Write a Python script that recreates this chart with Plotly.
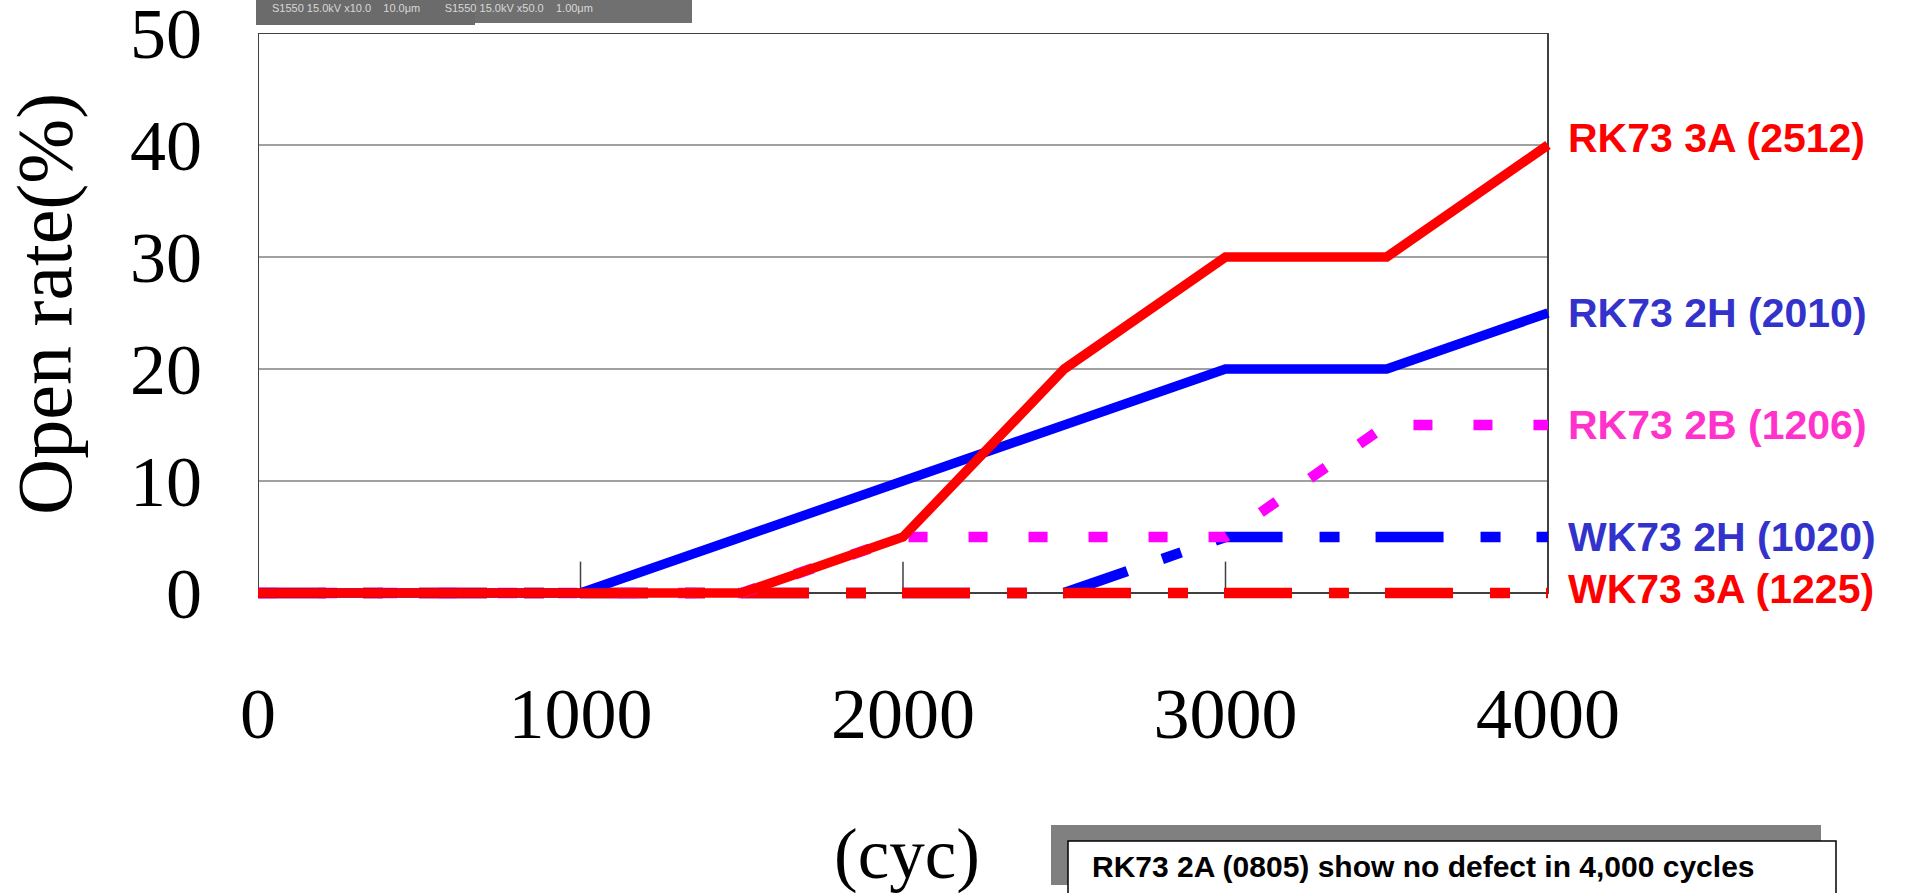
import plotly.graph_objects as go

# ---------------- data ----------------
cycles = [0, 500, 1000, 1500, 2000, 2500, 3000, 3500, 4000]
rk73_3a = [0, 0, 0, 0, 5, 20, 30, 30, 40]
rk73_2h = [0, 0, 0, 5, 10, 15, 20, 20, 25]
rk73_2b = [0, 0, 0, 0, 5, 5, 5, 15, 15]
wk73_2h = [0, 0, 0, 0, 0, 0, 5, 5, 5]
wk73_3a = [0, 0, 0, 0, 0, 0, 0, 0, 0]

series_names = ["WK73 2H (1020)", "WK73 3A (1225)", "RK73 2B (1206)",
                "RK73 2H (2010)", "RK73 3A (2512)"]
series_values = [wk73_2h, wk73_3a, rk73_2b, rk73_2h, rk73_3a]

x_ticks = [0, 1000, 2000, 3000, 4000]
y_ticks = [0, 10, 20, 30, 40, 50]
x_title = "(cyc)"
y_title = "Open rate(%)"
note_text = "RK73 2A (0805) show no defect in 4,000 cycles"
strip_text = "S1550 15.0kV x10.0    10.0μm        S1550 15.0kV x50.0    1.00μm"

# ---------------- styles ----------------
DASHDOT = "68px,37px,20px,36px"
styles = {
    "WK73 2H (1020)": dict(color="#0000FF", width=10.5, dash=DASHDOT, label="#3333CC", yshift=0),
    "WK73 3A (1225)": dict(color="#FF0000", width=10.5, dash=DASHDOT, label="#FF0000", yshift=4),
    "RK73 2B (1206)": dict(color="#FF00FF", width=10.5, dash="19px,41px", label="#FF33CC", yshift=0),
    "RK73 2H (2010)": dict(color="#0000FF", width=9.5, dash="solid", label="#3333CC", yshift=0),
    "RK73 3A (2512)": dict(color="#FF0000", width=9.5, dash="solid", label="#FF0000", yshift=7),
}

SERIF = "Liberation Serif, Times New Roman, serif"
SANS = "Liberation Sans, Arial, sans-serif"

W, H = 1908, 893
ML, MR, MT, MB = 258, 350, 33, 290
plot_w = W - ML - MR          # 1300 px; 4000 cycles -> 1290 px
plot_h = H - MT - MB          # 570 px; 50 % -> 560 px
x_max = 4000 * plot_w / 1290
y_min = -(plot_h - 560) / 11.2

fig = go.Figure()

for name, vals in zip(series_names, series_values):
    st = styles[name]
    fig.add_trace(go.Scatter(
        x=cycles, y=vals, mode="lines", name=name,
        line=dict(color=st["color"], width=st["width"], dash=st["dash"]),
        showlegend=False, hoverinfo="skip",
    ))


def px_x(p):
    return (p - ML) / plot_w


def px_y(p):
    return 1 - (p - MT) / plot_h


shapes = []
# horizontal gridlines, only inside the frame
for t in y_ticks[1:-1]:
    shapes.append(dict(type="line", xref="x", yref="y", x0=x_ticks[0], x1=x_ticks[-1], y0=t, y1=t,
                       line=dict(color="#808080", width=1.5), layer="below"))
# plot frame (drawn below the data lines)
shapes.append(dict(type="rect", xref="x", yref="y", x0=x_ticks[0], x1=x_ticks[-1],
                   y0=y_ticks[0], y1=y_ticks[-1],
                   line=dict(color="#404040", width=2), layer="below"))
# inner tick marks on the x axis
for t in x_ticks[1:-1]:
    shapes.append(dict(type="line", xref="x", yref="y", x0=t, x1=t, y0=0, y1=2.8,
                       line=dict(color="#404040", width=1.5), layer="below"))
# grey SEM-image strip at the very top
shapes.append(dict(type="rect", xref="paper", yref="paper",
                   x0=px_x(256), x1=px_x(475), y0=px_y(25), y1=px_y(0),
                   line=dict(width=0), fillcolor="#6b6b6b", layer="above"))
shapes.append(dict(type="rect", xref="paper", yref="paper",
                   x0=px_x(475), x1=px_x(692), y0=px_y(23), y1=px_y(0),
                   line=dict(width=0), fillcolor="#707070", layer="above"))
# note box with shadow
shapes.append(dict(type="rect", xref="paper", yref="paper",
                   x0=px_x(1051), x1=px_x(1821), y0=px_y(885), y1=px_y(825),
                   line=dict(width=0), fillcolor="#808080", layer="above"))
shapes.append(dict(type="rect", xref="paper", yref="paper",
                   x0=px_x(1068), x1=px_x(1836), y0=px_y(900), y1=px_y(841),
                   line=dict(color="#000000", width=1.5), fillcolor="#FFFFFF", layer="above"))

annotations = []
for name, vals in zip(series_names, series_values):
    st = styles[name]
    annotations.append(dict(
        x=cycles[-1], y=vals[-1], xref="x", yref="y", text=f"<b>{name}</b>",
        showarrow=False, xanchor="left", yanchor="middle", xshift=18, yshift=st["yshift"],
        font=dict(family=SANS, size=41, color=st["label"]),
    ))
annotations.append(dict(
    x=px_x(45), y=px_y(304), xref="paper", yref="paper", text=y_title, textangle=-90,
    showarrow=False, xanchor="center", yanchor="middle",
    font=dict(family=SERIF, size=78, color="#000000"),
))
annotations.append(dict(
    x=px_x(907), y=px_y(854), xref="paper", yref="paper", text=x_title,
    showarrow=False, xanchor="center", yanchor="middle",
    font=dict(family=SERIF, size=71, color="#000000"),
))
annotations.append(dict(
    x=px_x(1090), y=px_y(866), xref="paper", yref="paper", text=f"<b>{note_text}</b>",
    showarrow=False, xanchor="left", yanchor="middle",
    font=dict(family=SANS, size=30, color="#000000"),
))
annotations.append(dict(
    x=px_x(270), y=px_y(8), xref="paper", yref="paper", text=strip_text,
    showarrow=False, xanchor="left", yanchor="middle",
    font=dict(family=SANS, size=11, color="#d8d8d8"),
))

fig.update_layout(
    width=W, height=H,
    margin=dict(l=ML, r=MR, t=MT, b=MB, autoexpand=False),
    paper_bgcolor="#FFFFFF", plot_bgcolor="#FFFFFF",
    shapes=shapes, annotations=annotations,
    xaxis=dict(range=[0, x_max], tickvals=x_ticks, ticktext=[str(v) for v in x_ticks],
               showgrid=False, zeroline=False, showline=False, ticks="",
               tickfont=dict(family=SERIF, size=72, color="#000000"),
               ticklabelstandoff=62, ticklabeloverflow="allow", fixedrange=True),
    yaxis=dict(range=[y_min, 50], tickvals=y_ticks, ticktext=[str(v) for v in y_ticks],
               showgrid=False, zeroline=False, showline=False, ticks="",
               tickfont=dict(family=SERIF, size=72, color="#000000"),
               ticklabelstandoff=55, ticklabeloverflow="allow", fixedrange=True),
    showlegend=False,
)

fig.write_html("out.html",
               config={"displayModeBar": False},
               post_script="document.body.style.margin='0';"
                           "document.body.style.overflow='hidden';")
